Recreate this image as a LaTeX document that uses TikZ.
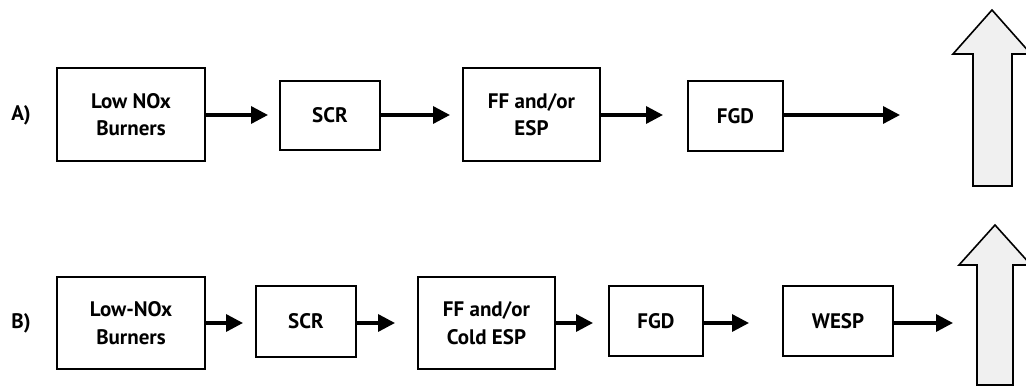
\documentclass[tikz,border=0pt]{standalone}
\usepackage{fontspec}
\setmainfont{PT Sans}
\usetikzlibrary{arrows.meta}
\begin{document}
\begin{tikzpicture}[x=1pt,y=-1pt,
  box/.style={draw=black,line width=1.6pt,inner sep=0pt,align=center,font=\bfseries\fontsize{21}{27.5}\selectfont},
  flow/.style={line width=3.4pt,-{Triangle[length=17pt,width=17pt]}},
  lab/.style={font=\bfseries\fontsize{21}{24}\selectfont},
  bigarrow/.style={draw=black,line width=1.6pt,fill=gray!12,line join=miter}]
\useasboundingbox (0,0) rectangle (1026,387);
% Row A
\node[lab] (la) at (21,115) {A)};
\node[box,minimum width=148pt,minimum height=93pt] (a1) at (131,114.5) {Low NOx\\Burners};
\node[box,minimum width=100pt,minimum height=69pt] (a2) at (330,115.5) {SCR};
\node[box,minimum width=137pt,minimum height=93pt] (a3) at (531.5,114.5) {FF and/or\\ESP};
\node[box,minimum width=95pt,minimum height=70pt] (a4) at (735.5,116) {FGD};
\coordinate (a5) at (900,115);
\draw[flow] (a1.east |- 0,115) -- (268,115);
\draw[flow] (a2.east |- 0,115) -- (450,115);
\draw[flow] (a3.east |- 0,115) -- (663,115);
\draw[flow] (a4.east |- 0,115) -- (a5);
% Row B
\node[lab] (lb) at (21,323) {B)};
\node[box,minimum width=148pt,minimum height=92pt] (b1) at (131,323) {Low-NOx\\Burners};
\node[box,minimum width=100pt,minimum height=71pt] (b2) at (306,321.5) {SCR};
\node[box,minimum width=137pt,minimum height=92pt] (b3) at (486.5,323) {FF and/or\\Cold ESP};
\node[box,minimum width=94pt,minimum height=70pt] (b4) at (656,321) {FGD};
\node[box,minimum width=110pt,minimum height=70pt] (b5) at (838,321) {WESP};
\draw[flow] (b1.east |- 0,323) -- (243,323);
\draw[flow] (b2.east |- 0,323) -- (395,323);
\draw[flow] (b3.east |- 0,323) -- (593,323);
\draw[flow] (b4.east |- 0,323) -- (749,323);
\draw[flow] (b5.east |- 0,323) -- (953,323);
% Big up arrows
\begin{scope}
\clip (0,0) rectangle (1026,387);
\draw[bigarrow] (992,10) -- (1031,54) -- (1012,54) -- (1012,186) -- (973,186) -- (973,54) -- (953,54) -- cycle;
\draw[bigarrow] (995,225) -- (1031,265) -- (1013,265) -- (1013,385) -- (977,385) -- (977,265) -- (959,265) -- cycle;
\end{scope}
\end{tikzpicture}
\end{document}
